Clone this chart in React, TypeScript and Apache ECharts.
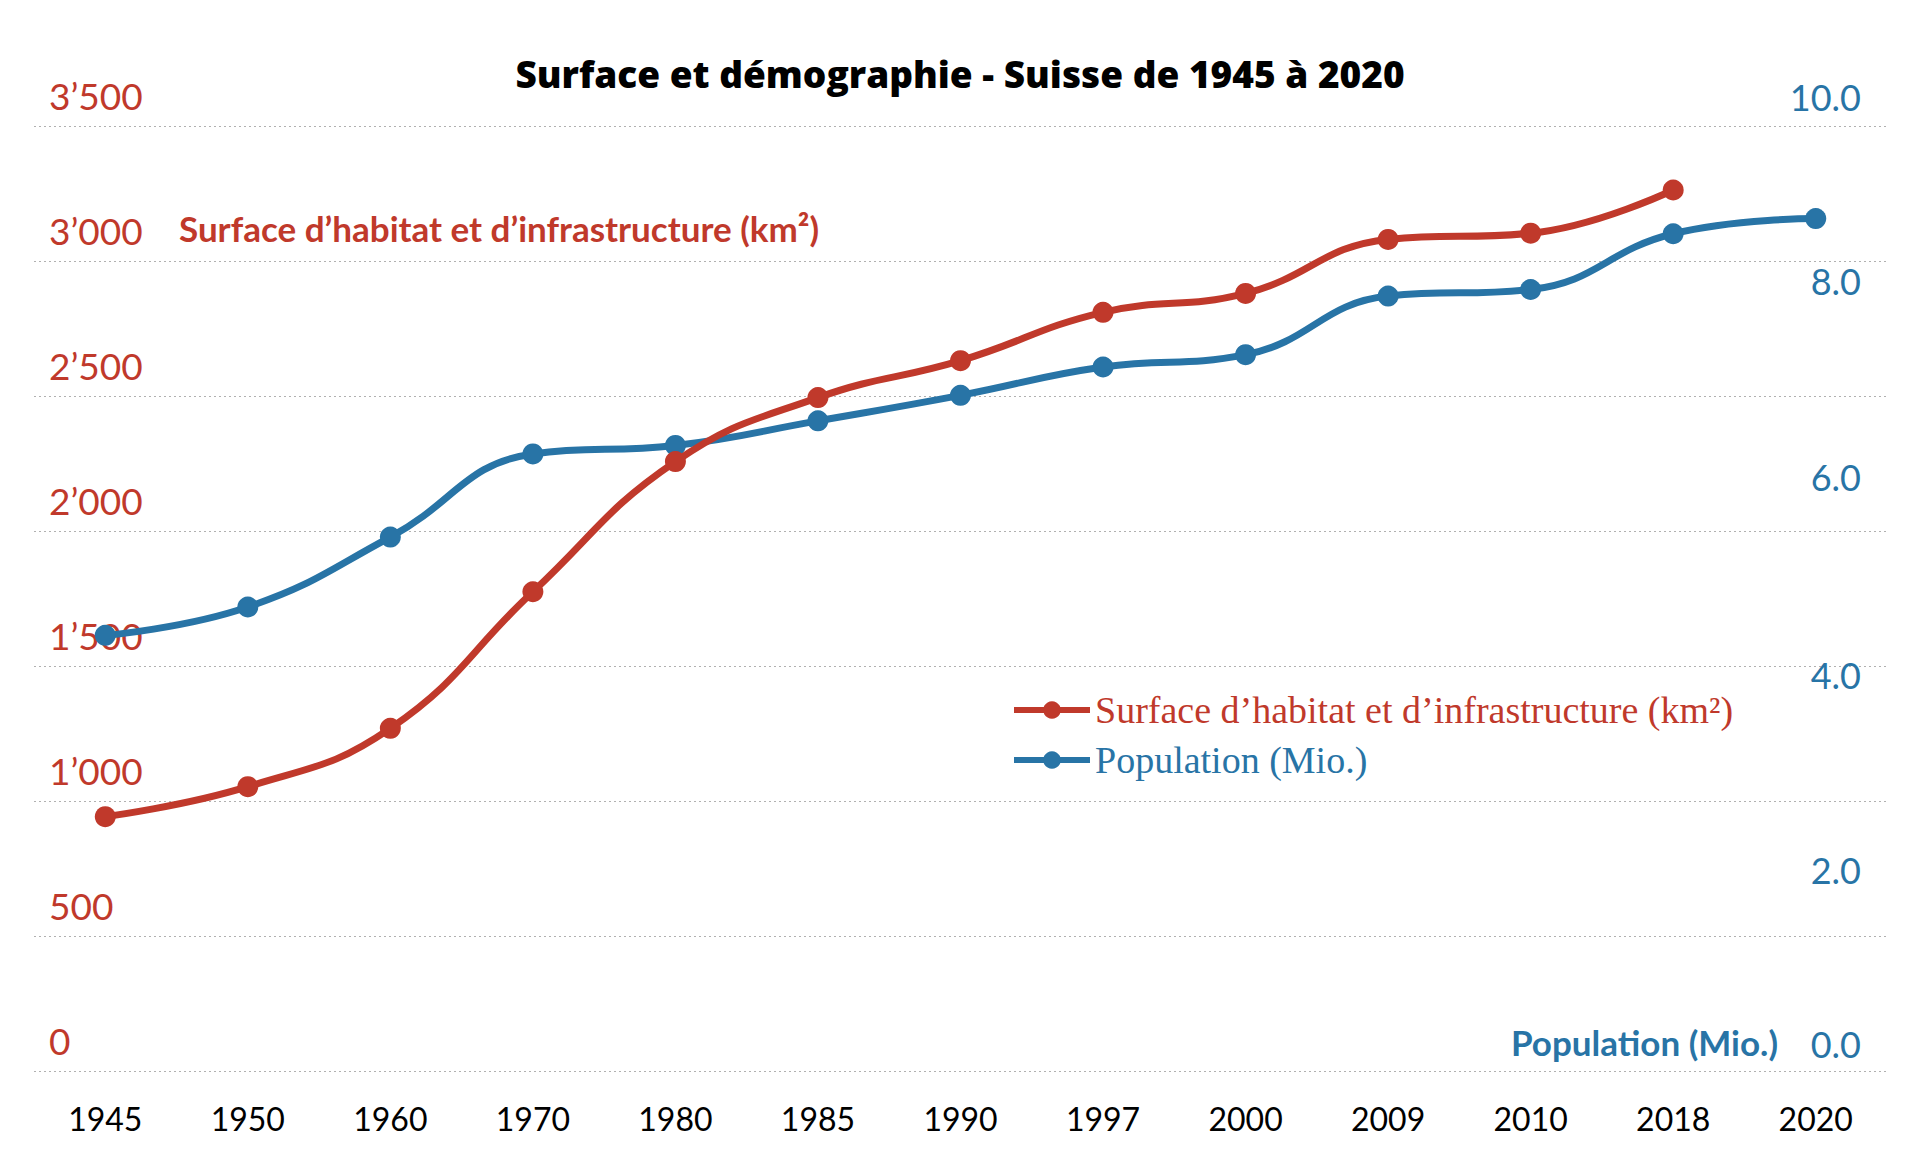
import React, { useEffect, useRef } from 'react';
import * as echarts from 'echarts';

const years = ['1945', '1950', '1960', '1970', '1980', '1985', '1990', '1997', '2000', '2009', '2010', '2018', '2020'];
const surface = [942, 1053, 1269, 1775, 2257, 2494, 2631, 2810, 2880, 3080, 3103, 3263, null];
const population = [4.61, 4.91, 5.65, 6.53, 6.62, 6.88, 7.15, 7.45, 7.58, 8.2, 8.27, 8.86, 9.02];

const RED = '#c0392b';
const BLUE = '#2874a6';

// right axis labels were hand placed in the source: lift each one a bit differently
const popLift: Record<string, number> = { '10': 29, '8': 34, '6': 27, '4': 18, '2': 12, '0': 27 };

const App: React.FC = () => {
  const chartRef = useRef<HTMLDivElement>(null);

  useEffect(() => {
    document.body.style.margin = '0';
    if (!chartRef.current) return;
    const chart = echarts.init(chartRef.current, undefined, { renderer: 'svg' });

    const rich: Record<string, any> = {};
    Object.keys(popLift).forEach((k) => {
      rich['p' + k] = {
        color: BLUE,
        fontFamily: 'Lato',
        fontSize: 36,
        padding: [0, 0, popLift[k] * 2, 0],
      };
    });

    const option: echarts.EChartsOption = {
      animation: false,
      backgroundColor: '#fff',
      title: {
        text: 'Surface et démographie - Suisse de 1945 à 2020',
        left: 'center',
        top: 55,
        padding: 0,
        textStyle: { fontFamily: 'Open Sans', fontSize: 37, fontWeight: 800, color: '#000' },
      },
      legend: {
        orient: 'vertical',
        left: 1006,
        top: 686,
        itemWidth: 76,
        itemHeight: 22,
        itemGap: 12,
        lineStyle: { width: 6 },
        textStyle: { fontFamily: 'Liberation Serif', fontSize: 38 },
        data: [
          { name: 'Surface d’habitat et d’infrastructure (km²)', textStyle: { color: RED } },
          { name: 'Population (Mio.)', textStyle: { color: BLUE } },
        ],
      },
      grid: { left: 34, right: 33, top: 126, bottom: 87, containLabel: false },
      xAxis: {
        type: 'category',
        data: years,
        boundaryGap: true,
        axisLine: { show: false },
        axisTick: { show: false },
        axisLabel: { fontFamily: 'Lato', fontSize: 32, color: '#000', margin: 31, interval: 0 },
      },
      yAxis: [
        {
          type: 'value',
          min: 0,
          max: 3500,
          interval: 500,
          position: 'left',
          axisLine: { show: false },
          axisTick: { show: false },
          splitLine: { show: true, lineStyle: { type: [2, 3], color: '#b0b0b0', width: 1.2 } },
          axisLabel: {
            inside: true,
            margin: 15,
            align: 'left',
            verticalAlign: 'bottom',
            padding: [0, 0, 12, 0],
            fontFamily: 'Lato',
            fontSize: 37,
            color: RED,
            formatter: (v: number) => (v >= 1000 ? `${Math.floor(v / 1000)}’${String(v % 1000).padStart(3, '0')}` : `${v}`),
          },
        },
        {
          type: 'value',
          min: 0,
          max: 10,
          interval: 2,
          position: 'right',
          axisLine: { show: false },
          axisTick: { show: false },
          splitLine: { show: false },
          axisLabel: {
            inside: true,
            margin: 26,
            align: 'right',
            verticalAlign: 'middle',
            formatter: (v: number) => `{p${v}|${v.toFixed(1)}}`,
            rich,
          },
        },
      ],
      graphic: [
        {
          type: 'text',
          left: 179,
          top: 210,
          style: {
            text: 'Surface d’habitat et d’infrastructure (km²)',
            fill: RED,
            font: 'bold 35px Lato',
          },
        },
        {
          type: 'text',
          right: 142,
          top: 1024,
          style: {
            text: 'Population (Mio.)',
            fill: BLUE,
            font: 'bold 35px Lato',
          },
        },
      ],
      series: [
        {
          name: 'Surface d’habitat et d’infrastructure (km²)',
          type: 'line',
          yAxisIndex: 0,
          data: surface,
          smooth: 0.45,
          symbol: 'circle',
          symbolSize: 21,
          itemStyle: { color: RED },
          lineStyle: { color: RED, width: 7 },
          z: 3,
        },
        {
          name: 'Population (Mio.)',
          type: 'line',
          yAxisIndex: 1,
          data: population,
          smooth: 0.45,
          symbol: 'circle',
          symbolSize: 21,
          itemStyle: { color: BLUE },
          lineStyle: { color: BLUE, width: 7 },
          z: 2,
        },
      ],
    };

    chart.setOption(option);
    return () => {
      chart.dispose();
    };
  }, []);

  return <div ref={chartRef} style={{ width: '1920px', height: '1158px' }} />;
};

export default App;
